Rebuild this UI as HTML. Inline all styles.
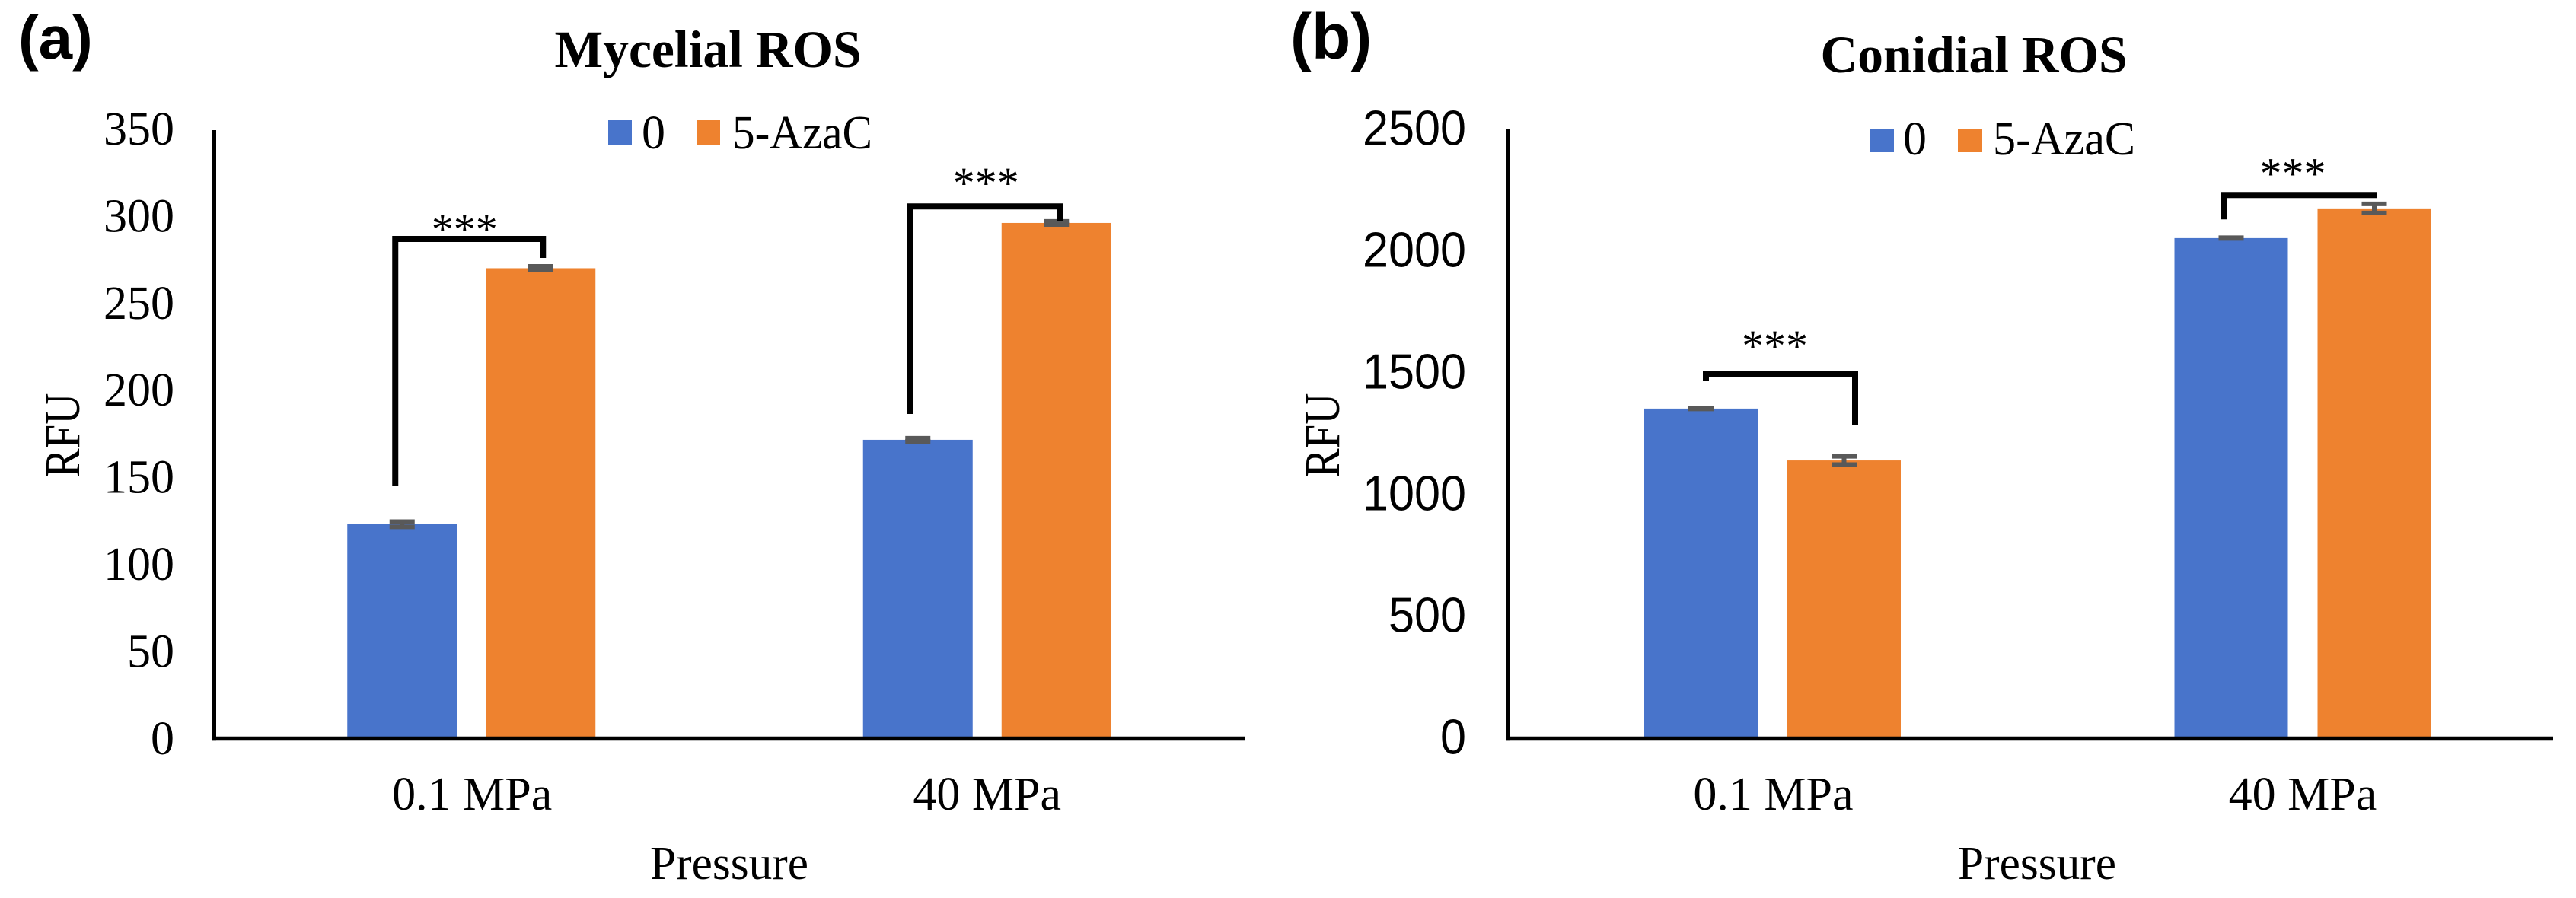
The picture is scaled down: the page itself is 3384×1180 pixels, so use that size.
<!DOCTYPE html>
<html lang="en">
<head>
<meta charset="utf-8">
<title>Mycelial and Conidial ROS</title>
<style>
html,body{margin:0;padding:0;background:#fff;width:3384px;height:1180px;overflow:hidden}
svg{display:block}
text{fill:#000}
.serif{font-family:"Liberation Serif",serif}
.sans{font-family:"Liberation Sans",sans-serif}
</style>
</head>
<body>
<svg id="figure" xmlns="http://www.w3.org/2000/svg" width="3384" height="1180" viewBox="0 0 3384 1180">
  <rect x="0" y="0" width="3384" height="1180" fill="#fff"/>

  <g id="panel-a">
    <text class="sans" font-weight="700" font-size="80" x="24" y="77">(a)</text>
    <text class="serif" font-weight="700" font-size="69" x="930" y="88" text-anchor="middle" textLength="403" lengthAdjust="spacingAndGlyphs">Mycelial ROS</text>
    <rect x="799" y="158" width="31" height="33" fill="#4874CB"/>
    <text class="serif" font-size="62" x="843" y="195">0</text>
    <rect x="915" y="158" width="31" height="33" fill="#EE822F"/>
    <text class="serif" font-size="62" x="962" y="195" textLength="184" lengthAdjust="spacingAndGlyphs">5-AzaC</text>
    <text class="serif" font-size="66" transform="translate(104 572) rotate(-90)" text-anchor="middle" textLength="111" lengthAdjust="spacingAndGlyphs">RFU</text>
    <text class="serif" font-size="62" x="958" y="1155" text-anchor="middle" textLength="208" lengthAdjust="spacingAndGlyphs">Pressure</text>
  </g>

  <g id="panel-b">
    <text class="sans" font-weight="700" font-size="84" x="1695" y="77">(b)</text>
    <text class="serif" font-weight="700" font-size="69" x="2593" y="95" text-anchor="middle" textLength="403" lengthAdjust="spacingAndGlyphs">Conidial ROS</text>
    <rect x="2457" y="169" width="31" height="31" fill="#4874CB"/>
    <text class="serif" font-size="62" x="2500" y="203">0</text>
    <rect x="2572" y="169" width="32" height="31" fill="#EE822F"/>
    <text class="serif" font-size="62" x="2618" y="203" textLength="187" lengthAdjust="spacingAndGlyphs">5-AzaC</text>
    <text class="serif" font-size="66" transform="translate(1759 572) rotate(-90)" text-anchor="middle" textLength="111" lengthAdjust="spacingAndGlyphs">RFU</text>
    <text class="serif" font-size="62" x="2676" y="1155" text-anchor="middle" textLength="208" lengthAdjust="spacingAndGlyphs">Pressure</text>
  </g>
</svg>

<script>
// ---- chart data ----
const categories = ['0.1 MPa', '40 MPa'];

const mycelialTicks = [0, 50, 100, 150, 200, 250, 300, 350];
const mycelialControl = [123, 171.5];
const mycelialAzac = [270, 296];
const mycelialControlErr = [1.5, 0.9];
const mycelialAzacErr = [1.1, 0.9];
// significance brackets, in RFU: bar height level, left arm end, right arm end
const mycelialBracketLevel = [286.8, 305.5];
const mycelialBracketLeftEnd = [144.9, 186.3];
const mycelialBracketRightEnd = [275.9, 297.2];

const conidialTicks = [0, 500, 1000, 1500, 2000, 2500];
const conidialControl = [1355, 2055];
const conidialAzac = [1142, 2177];
const conidialControlErr = [1.5, 1.5];
const conidialAzacErr = [17, 18.75];
const conidialBracketLevel = [1498, 2232];
const conidialBracketLeftEnd = [1467, 2132];
const conidialBracketRightEnd = [1288, 2232];

const NS = 'http://www.w3.org/2000/svg';
function make(parent, tag, attrs, txt) {
  const node = document.createElementNS(NS, tag);
  for (const k in attrs) node.setAttribute(k, attrs[k]);
  if (txt !== undefined) node.textContent = txt;
  parent.appendChild(node);
  return node;
}

function drawChart(panel, o) {
  const yOf = v => o.y0 - v * o.pxPerUnit;
  const xOf = i => o.bandStart + o.band * (i + 0.5);
  const g = document.getElementById(panel);

  // bars and error bars
  [[o.control, o.controlErr, '#4874CB', -1, 'control'], [o.azac, o.azacErr, '#EE822F', 1, 'azac']].forEach(s => {
    s[0].forEach((v, i) => {
      const cx = xOf(i) + s[3] * (o.gap + o.barW) / 2;
      const bar = make(g, 'rect', {x: cx - o.barW / 2, y: yOf(v), width: o.barW, height: yOf(0) - yOf(v), fill: s[2]});
      
      

      const top = yOf(v + s[1][i]), bottom = yOf(v - s[1][i]);
      const stem = make(g, 'line', {x1: cx, x2: cx, y1: top, y2: bottom, stroke: '#595959', 'stroke-width': 6});
      
      
      const capTop = make(g, 'line', {x1: cx - 16.5, x2: cx + 16.5, y1: top, y2: top, stroke: '#595959', 'stroke-width': 6});
      
      
      const capBottom = make(g, 'line', {x1: cx - 16.5, x2: cx + 16.5, y1: bottom, y2: bottom, stroke: '#595959', 'stroke-width': 6});
      
      
    });
  });

  // axes
  const yAxis = make(g, 'line', {x1: o.axisX, x2: o.axisX, y1: o.axisTop, y2: o.y0 + 2.75, stroke: '#000', 'stroke-width': 6});
  
  
  const xAxis = make(g, 'line', {x1: o.axisX - 3, x2: o.axisEnd, y1: o.y0, y2: o.y0, stroke: '#000', 'stroke-width': 5.5});
  
  

  // y tick labels
  o.ticks.forEach(t => {
    const s = String(t);
    const label = make(g, 'text', {x: o.tickX, y: yOf(t) + o.tickDrop, 'text-anchor': 'end', 'font-size': o.tickSize, class: o.tickClass,
      textLength: s.length * o.tickAdvance, lengthAdjust: 'spacingAndGlyphs'}, s);
    
    
  });

  // x category labels
  categories.forEach((c, i) => {
    const label = make(g, 'text', {x: xOf(i) + 1 - i, y: 1064, 'text-anchor': 'middle', 'font-size': 62, class: 'serif'}, c);
    
    
  });

  // significance brackets and stars
  o.level.forEach((lv, i) => {
    const cBlue = xOf(i) - (o.gap + o.barW) / 2, cOrange = xOf(i) + (o.gap + o.barW) / 2;
    const xL = cBlue + o.leftShift[i], xR = cOrange + o.rightShift[i];
    const bracket = make(g, 'path', {d: 'M' + xL + ' ' + yOf(o.leftEnd[i]) + 'V' + yOf(lv) + 'H' + xR + 'V' + yOf(o.rightEnd[i]),
      fill: 'none', stroke: '#000', 'stroke-width': 8, 'stroke-linejoin': 'miter'});
    
    
    const stars = make(g, 'text', {x: (xL + xR) / 2 + o.starShiftX[i], y: yOf(lv) + o.starShiftY[i], 'text-anchor': 'middle', 'font-size': 58, class: 'serif'}, '***');
    
    
  });
}

drawChart('panel-a', {
  control: mycelialControl, controlErr: mycelialControlErr, azac: mycelialAzac, azacErr: mycelialAzacErr,
  ticks: mycelialTicks, level: mycelialBracketLevel, leftEnd: mycelialBracketLeftEnd, rightEnd: mycelialBracketRightEnd,
  y0: 970.5, pxPerUnit: 2.289, bandStart: 280.5, band: 677.5, barW: 144, gap: 38,
  axisX: 281, axisTop: 171, axisEnd: 1636,
  tickX: 229, tickDrop: 20.5, tickSize: 62, tickClass: 'serif', tickAdvance: 31,
  leftShift: [-9, -10], rightShift: [3, 5], starShiftX: [-6, 1], starShiftY: [7, -11]
});

drawChart('panel-b', {
  control: conidialControl, controlErr: conidialControlErr, azac: conidialAzac, azacErr: conidialAzacErr,
  ticks: conidialTicks, level: conidialBracketLevel, leftEnd: conidialBracketLeftEnd, rightEnd: conidialBracketRightEnd,
  y0: 970.5, pxPerUnit: 0.32, bandStart: 1980.25, band: 696.5, barW: 149, gap: 39,
  axisX: 1981, axisTop: 169, axisEnd: 3354,
  tickX: 1926, tickDrop: 20, tickSize: 65, tickClass: 'sans', tickAdvance: 34,
  leftShift: [6.5, -10], rightShift: [14.5, 4], starShiftX: [-7.5, -10], starShiftY: [-17, -9]
});
</script>
</body>
</html>
